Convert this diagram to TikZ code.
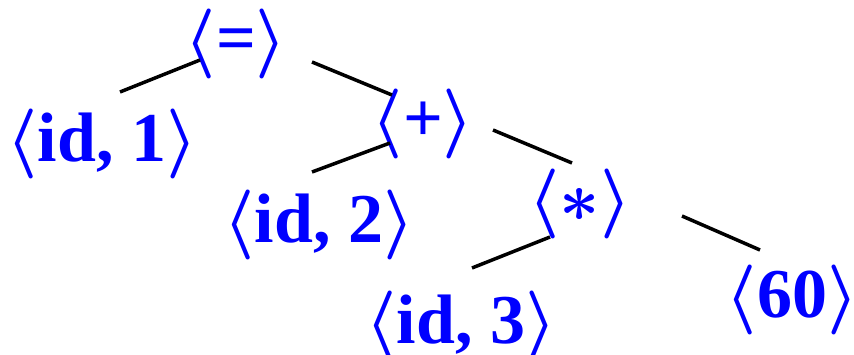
\documentclass[tikz,border=0pt]{standalone}
\usepackage{fontspec}
\setmainfont{Liberation Serif}
\newcommand{\lb}{\scalebox{7}{\normalsize\boldmath$\langle$}}
\newcommand{\rb}{\scalebox{7}{\normalsize\boldmath$\rangle$}}
\newcommand{\stargl}{\scalebox{7}{\normalsize\boldmath$\ast$}}
\begin{document}
\begin{tikzpicture}[x=1pt,y=-1pt,
  tok/.style={text=blue,font=\fontsize{70}{84}\selectfont\bfseries,inner sep=0pt,anchor=base},
  edge/.style={line width=3.5pt}]
\useasboundingbox (0,0) rectangle (854,355);
\node[tok] (eq) at (236,62) {\lb=\rb};
\node[tok] (id1) at (102,162) {\lb id, 1\rb};
\node[tok] (plus) at (423,142) {\lb+\rb};
\node[tok] (id2) at (319,243) {\lb id, 2\rb};
\node[tok] (star) at (580,222) {\lb\stargl\rb};
\node[tok] (id3) at (461,343) {\lb id, 3\rb};
\node[tok] (sixty) at (792,318) {\lb 60\rb};
\coordinate (a1) at (200,60); \coordinate (a2) at (120,92);
\coordinate (b1) at (312,62); \coordinate (b2) at (392,95);
\coordinate (c1) at (390,143); \coordinate (c2) at (312,172);
\coordinate (d1) at (493,130); \coordinate (d2) at (572,163);
\coordinate (e1) at (550,237); \coordinate (e2) at (472,268);
\coordinate (f1) at (682,216); \coordinate (f2) at (760,250);
\draw[edge] (a1) -- (a2);
\draw[edge] (b1) -- (b2);
\draw[edge] (c1) -- (c2);
\draw[edge] (d1) -- (d2);
\draw[edge] (e1) -- (e2);
\draw[edge] (f1) -- (f2);
\end{tikzpicture}
\end{document}
